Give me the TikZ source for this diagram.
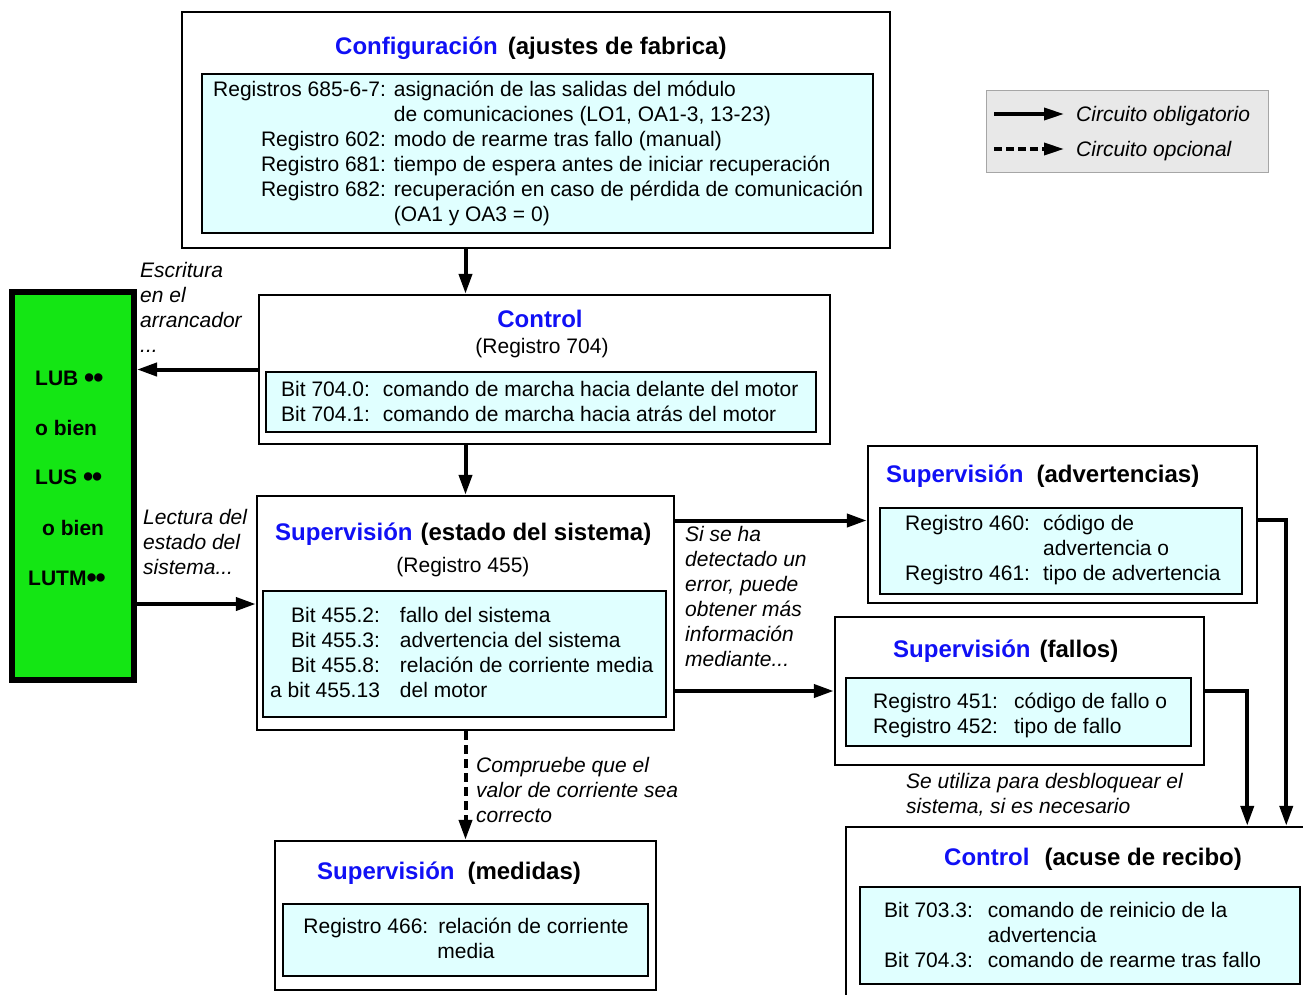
\documentclass[tikz,border=0pt]{standalone}
\usepackage{fontspec}
\setmainfont{Liberation Sans}
\usetikzlibrary{arrows.meta}
\definecolor{hdblue}{RGB}{16,16,245}
\definecolor{regcyan}{RGB}{224,255,255}
\definecolor{startgreen}{RGB}{20,230,20}
\definecolor{legendgray}{RGB}{232,232,232}
\newcommand{\twodots}{\raisebox{-2.5pt}{\fontsize{29}{25}\selectfont\textbullet\kern-1pt\textbullet}}
\tikzset{
    frame/.style={
        rectangle, draw=black, line width=2.5pt,
        fill=white, inner sep=0pt
    },
    regbox/.style={
        rectangle, draw=black, line width=2.5pt,
        fill=regcyan, inner sep=0pt
    },
    head/.style={font=\fontsize{24}{25}\selectfont\bfseries, inner sep=0pt, anchor=base west},
    body/.style={font=\fontsize{21}{25}\selectfont, inner sep=0pt, anchor=base west},
    note/.style={font=\fontsize{21}{25}\selectfont\itshape, inner sep=0pt, anchor=base west},
    tag/.style={font=\fontsize{21}{25}\selectfont\bfseries, inner sep=0pt, anchor=base west},
    flow/.style={line width=4pt, -{Triangle[length=20pt, width=13pt]}},
    option/.style={flow, dash pattern=on 9pt off 5pt},
    legflow/.style={line width=3.5pt, -{Triangle[length=20pt, width=12pt]}}
}

\begin{document}
\begin{tikzpicture}[x=1pt, y=-1pt]
    \useasboundingbox (0,0) rectangle (1303,994);
    \clip (0,0) rectangle (1303,994);
    \fill[white] (0,0) rectangle (1303,994);

    % Outer frames
    \node[frame, minimum width=708pt, minimum height=236pt] (cfg) at (536,130) {};
    \node[frame, minimum width=571pt, minimum height=149pt] (ctl) at (544.5,369.5) {};
    \node[frame, minimum width=417pt, minimum height=234pt] (sest) at (465.5,613) {};
    \node[frame, minimum width=389pt, minimum height=157pt] (warn) at (1062.5,524.5) {};
    \node[frame, minimum width=369pt, minimum height=148pt] (fault) at (1019.5,691) {};
    \node[frame, minimum width=381pt, minimum height=149pt] (meas) at (465.5,915.5) {};
    \node[frame, minimum width=478pt, minimum height=186pt] (ack) at (1085,920) {};

    % Register boxes
    \node[regbox, minimum width=671pt, minimum height=159pt] (cfgreg) at (537.5,153.5) {};
    \node[regbox, minimum width=550pt, minimum height=60pt] (ctlreg) at (541,402) {};
    \node[regbox, minimum width=403pt, minimum height=126pt] (sestreg) at (464.5,654) {};
    \node[regbox, minimum width=362pt, minimum height=86pt] (warnreg) at (1061,551) {};
    \node[regbox, minimum width=345pt, minimum height=68pt] (faultreg) at (1018.5,712) {};
    \node[regbox, minimum width=365pt, minimum height=72pt] (measreg) at (465.5,940) {};
    \node[regbox, minimum width=440pt, minimum height=97pt] (ackreg) at (1080,935.5) {};

    % Starter
    \node[rectangle, draw=black, line width=6pt, fill=startgreen,
          minimum width=122pt, minimum height=388pt] (starter) at (73,486) {};
    \node[tag] (lub) at (35,385) {LUB \twodots};
    \node[tag] (obien1) at (35,435) {o bien};
    \node[tag] (lus) at (35,484) {LUS \twodots};
    \node[tag] (obien2) at (42,535) {o bien};
    \node[tag] (lutm) at (28,585) {LUTM\twodots};

    % Legend
    \node[rectangle, draw=gray!70, line width=1pt, fill=legendgray,
          minimum width=282pt, minimum height=82pt] (legend) at (1127,131) {};
    \coordinate (oblA) at (994,114);
    \coordinate (oblB) at (1064,114);
    \coordinate (optA) at (994,149);
    \coordinate (optB) at (1064,149);
    \draw[legflow] (oblA) -- (oblB);
    \draw[legflow, dash pattern=on 8pt off 4pt] (optA) -- (optB);
    \node[note] (obltxt) at (1076,121) {Circuito obligatorio};
    \node[note] (opttxt) at (1076,156) {Circuito opcional};

    % Configuration
    \node[head] (cfghead) at (335,54) {\textcolor{hdblue}{Configuración}\hspace{10pt}(ajustes de fabrica)};
    \node[body] (cfgtxt) at (213,96) {\begin{tabular}[t]{@{}r@{\hspace{8pt}}l@{}}
        Registros 685-6-7: & asignación de las salidas del módulo\\
         & de comunicaciones (LO1, OA1-3, 13-23)\\
        Registro 602: & modo de rearme tras fallo (manual)\\
        Registro 681: & tiempo de espera antes de iniciar recuperación\\
        Registro 682: & recuperación en caso de pérdida de comunicación\\
         & (OA1 y OA3 = 0)
    \end{tabular}};

    % Control
    \node[head, anchor=base] (ctlhead) at (540,327) {\textcolor{hdblue}{Control}};
    \node[body, anchor=base] (ctlsub) at (542,353) {(Registro 704)};
    \node[body] (ctltxt) at (281,396) {\begin{tabular}[t]{@{}l@{\hspace{13pt}}l@{}}
        Bit 704.0: & comando de marcha hacia delante del motor\\
        Bit 704.1: & comando de marcha hacia atrás del motor
    \end{tabular}};

    % System status
    \node[head] (sesthead) at (275,540) {\textcolor{hdblue}{Supervisión}\hspace{8pt}(estado del sistema)};
    \node[body, anchor=base] (sestsub) at (463,572) {(Registro 455)};
    \node[body] (sesttxt) at (270,622) {\begin{tabular}[t]{@{}r@{\hspace{20pt}}l@{}}
        Bit 455.2: & fallo del sistema\\
        Bit 455.3: & advertencia del sistema\\
        Bit 455.8: & relación de corriente media\\
        a bit 455.13 & del motor
    \end{tabular}};

    % Warnings
    \node[head] (warnhead) at (886,482) {\textcolor{hdblue}{Supervisión}\hspace{13pt}(advertencias)};
    \node[body] (warntxt) at (905,530) {\begin{tabular}[t]{@{}l@{\hspace{13pt}}l@{}}
        Registro 460: & código de\\
         & advertencia o\\
        Registro 461: & tipo de advertencia
    \end{tabular}};

    % Faults
    \node[head] (faulthead) at (893,657) {\textcolor{hdblue}{Supervisión}\hspace{9pt}(fallos)};
    \node[body] (faulttxt) at (873,708) {\begin{tabular}[t]{@{}l@{\hspace{16pt}}l@{}}
        Registro 451: & código de fallo o\\
        Registro 452: & tipo de fallo
    \end{tabular}};

    % Measures
    \node[head] (meashead) at (317,879) {\textcolor{hdblue}{Supervisión}\hspace{13pt}(medidas)};
    \node[body, anchor=base] (meastxt) at (466,933) {\begin{tabular}[t]{@{}c@{}}
        Registro 466:\hspace{10pt}relación de corriente\\
        media
    \end{tabular}};

    % Acknowledge
    \node[head] (ackhead) at (944,865) {\textcolor{hdblue}{Control}\hspace{15pt}(acuse de recibo)};
    \node[body] (acktxt) at (884,917) {\begin{tabular}[t]{@{}l@{\hspace{15pt}}l@{}}
        Bit 703.3: & comando de reinicio de la\\
         & advertencia\\
        Bit 704.3: & comando de rearme tras fallo
    \end{tabular}};

    % Notes
    \node[note] (writenote) at (140,277) {\begin{tabular}[t]{@{}l@{}}Escritura\\en el\\arrancador\\...\end{tabular}};
    \node[note] (readnote) at (143,524) {\begin{tabular}[t]{@{}l@{}}Lectura del\\estado del\\sistema...\end{tabular}};
    \node[note] (errnote) at (685,541) {\begin{tabular}[t]{@{}l@{}}Si se ha\\detectado un\\error, puede\\obtener más\\información\\mediante...\end{tabular}};
    \node[note] (checknote) at (476,772) {\begin{tabular}[t]{@{}l@{}}Compruebe que el\\valor de corriente sea\\correcto\end{tabular}};
    \node[note] (unlocknote) at (906,788) {\begin{tabular}[t]{@{}l@{}}Se utiliza para desbloquear el\\sistema, si es necesario\end{tabular}};

    % Connectors
    \coordinate (readin) at ([yshift=9pt]sest.west);
    \coordinate (warnin) at ([yshift=4pt]warn.west);
    \draw[flow] (cfg.south -| sest.north) -- (ctl.north -| sest.north);
    \draw[flow] (ctl.west) -- (ctl.west -| starter.east);
    \draw[flow] (ctl.south -| sest.north) -- (sest.north);
    \draw[flow] (readin -| starter.east) -- (readin);
    \draw[flow] (warnin -| sest.east) -- (warnin);
    \draw[flow] (fault.west -| sest.east) -- (fault.west);
    \draw[option] (sest.south) -- (meas.north);
    \draw[flow] ([yshift=5pt]warn.east) -- ++(28,0) coordinate (warnturn) -- (warnturn |- ack.north);
    \draw[flow] (fault.east) -- ++(42,0) coordinate (faultturn) -- (faultturn |- ack.north);
\end{tikzpicture}
\end{document}
